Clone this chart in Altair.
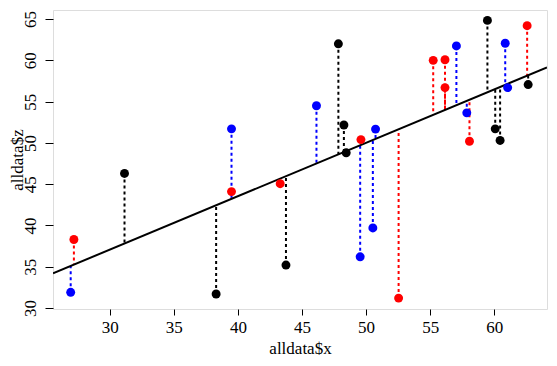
import altair as alt
import pandas as pd

# values
x_vals = [26.95, 27.2, 31.15, 38.3, 39.5, 39.5, 43.3, 43.75, 46.13, 47.84,
          48.27, 48.45, 49.6, 49.54, 50.74, 50.53, 52.54, 55.24, 56.16, 56.16,
          57.05, 57.86, 58.07, 59.47, 60.08, 60.46, 60.86, 61.05, 62.57, 62.65]
z_vals = [31.9, 38.3, 46.3, 31.7, 44.1, 51.7, 45.06, 35.2, 54.5, 62.0,
          52.17, 48.8, 50.4, 36.2, 51.67, 39.7, 31.2, 60.0, 60.07, 56.7,
          61.75, 53.64, 50.2, 64.84, 51.7, 50.3, 62.07, 56.7, 64.2, 57.07]
groups = ["blue", "red", "black", "black", "red", "blue", "red", "black", "blue", "black",
          "black", "black", "red", "blue", "blue", "blue", "red", "red", "red", "red",
          "blue", "blue", "red", "black", "black", "black", "blue", "blue", "red", "black"]
group_names = ["black", "red", "blue"]
group_colors = ["#000000", "#ff0000", "#0000ff"]

intercept = 17.66
slope = 0.647
x_domain = [25.57, 64.12]
y_domain = [29.88, 66.1]
x_ticks = [30, 35, 40, 45, 50, 55, 60]
y_ticks = [30, 35, 40, 45, 50, 55, 60, 65]

df = pd.DataFrame({"x": x_vals, "z": z_vals, "g": groups})
df["fit"] = intercept + slope * df["x"]
line_df = pd.DataFrame({"x": x_domain})
line_df["fit"] = intercept + slope * line_df["x"]

FONT = "Liberation Serif"
W, H = 494, 299

xs = alt.Scale(domain=x_domain, nice=False, zero=False)
ys = alt.Scale(domain=y_domain, nice=False, zero=False)
color = alt.Color("g:N", scale=alt.Scale(domain=group_names, range=group_colors), legend=None)

xaxis = alt.Axis(values=x_ticks, title="alldata$x", grid=False, domain=False,
                 tickColor="black", tickWidth=1, tickSize=6,
                 labelFont=FONT, labelFontSize=17, labelColor="black", labelPadding=4,
                 titleFont=FONT, titleFontSize=17, titleFontWeight="normal", titleColor="black",
                 titleY=44, titleBaseline="alphabetic")
yaxis = alt.Axis(values=y_ticks, title="alldata$z", grid=False, domain=False,
                 tickColor="black", tickWidth=1, tickSize=8,
                 labelFont=FONT, labelFontSize=17, labelColor="black", labelPadding=10,
                 labelAngle=270, labelAlign="center", labelBaseline="alphabetic",
                 titleFont=FONT, titleFontSize=17, titleFontWeight="normal", titleColor="black",
                 titleAngle=270, titleX=-31, titleY=H / 2, titleAlign="center",
                 titleBaseline="alphabetic")

base = alt.Chart(df)

segs = base.mark_rule(strokeWidth=2, strokeDash=[3, 3]).encode(
    x=alt.X("x:Q", scale=xs, axis=xaxis),
    y=alt.Y("z:Q", scale=ys, axis=yaxis),
    y2="fit:Q",
    color=color,
)

line = alt.Chart(line_df).mark_line(color="black", strokeWidth=2, clip=True).encode(
    x=alt.X("x:Q", scale=xs),
    y=alt.Y("fit:Q", scale=ys),
)

pts = base.mark_circle(size=80, opacity=1).encode(
    x=alt.X("x:Q", scale=xs),
    y=alt.Y("z:Q", scale=ys),
    color=color,
)

chart = alt.layer(segs, line, pts).properties(
    width=W, height=H,
    autosize=alt.AutoSizeParams(type="none"),
    padding={"left": 45, "top": 2, "right": 2, "bottom": 49},
).configure_view(stroke="black", strokeWidth=2.5).configure(background="white")

chart.save("out.html", embed_options={"renderer": "svg", "actions": False})
